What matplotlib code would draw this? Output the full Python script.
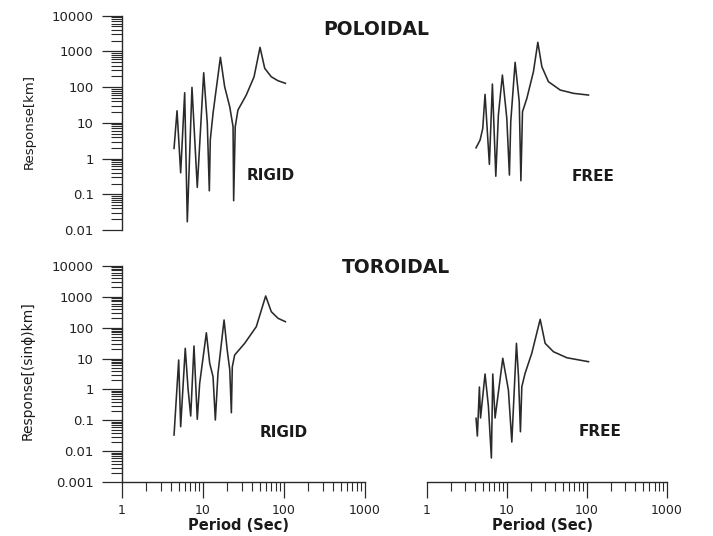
import numpy as np
import matplotlib.pyplot as plt
from matplotlib.ticker import LogLocator, NullFormatter

# periods (s) and responses
pol_rigid_period = [4.39, 4.78, 5.30, 5.94, 6.40, 7.31, 8.50, 10.2, 11.3, 11.97, 12.3, 13.3,
                    16.4, 18.5, 21.4, 23.5, 23.9, 25.0, 27.0, 34.2, 42.7, 50.6, 57.8, 69.7, 84.3, 104]
pol_rigid_resp = [1.93, 21.8, 0.40, 69.7, 0.017, 98.7, 0.156, 253, 9.7, 0.125, 3.3, 18.5,
                  684, 103, 28, 7.8, 0.066, 7.8, 22.8, 60, 195, 1300, 336, 195, 151, 128]

pol_free_period = [4.13, 4.64, 5.01, 5.35, 6.06, 6.61, 7.29, 7.85, 8.81, 10.0, 10.78, 11.2,
                   12.7, 14.3, 15.0, 15.7, 17.8, 21.5, 24.4, 27.4, 33.1, 46.4, 68, 104.7]
pol_free_resp = [2.0, 3.3, 7.0, 62.8, 0.69, 122, 0.32, 16.5, 218, 13.4, 0.345, 10.7,
                 495, 39, 0.24, 20.5, 48.5, 270, 1800, 373, 142, 83, 67, 60]

tor_rigid_period = [4.39, 5.01, 5.30, 6.04, 6.53, 7.05, 7.74, 8.5, 9.1, 11.0, 12.1, 13.3, 14.2,
                    15.3, 18.2, 19.9, 21.4, 22.4, 23.0, 24.6, 32.7, 45.5, 59.4, 69.7, 84.3, 104]
tor_rigid_resp = [0.0337, 8.96, 0.0625, 21.4, 1.09, 0.139, 25.4, 0.109, 1.58, 68, 7.0, 2.6, 0.103,
                  3.3, 176, 18.8, 4.3, 0.177, 5.4, 13, 31, 107, 1050, 326, 200, 155]

tor_free_period = [4.13, 4.29, 4.55, 4.70, 5.35, 5.89, 6.42, 6.68, 7.14, 8.91, 10.47, 11.55,
                   13.2, 14.0, 14.8, 15.4, 16.9, 20.5, 26.1, 30.1, 38.2, 56.2, 104.7]
tor_free_resp = [0.117, 0.0313, 1.2, 0.12, 3.16, 0.29, 0.0061, 3.16, 0.12, 10.2, 0.96, 0.020,
                 31, 2.6, 0.043, 1.23, 3.3, 14.8, 185, 31, 16.6, 10.6, 7.9]

x_ticks = [1, 10, 100, 1000]
x_labels = ["1", "10", "100", "1000"]
y_ticks_top = [0.01, 0.1, 1, 10, 100, 1000, 10000]
y_labels_top = ["0.01", "0.1", "1", "10", "100", "1000", "10000"]
y_ticks_bot = [0.001, 0.01, 0.1, 1, 10, 100, 1000, 10000]
y_labels_bot = ["0.001", "0.01", "0.1", "1", "10", "100", "1000", "10000"]

W, H = 713, 536
ink = "#2a2a2a"

fig = plt.figure(figsize=(W / 100, H / 100), dpi=100)


def px_axes(x0, y0, x1, y1):
    # box given in pixels from the top left corner
    return fig.add_axes([x0 / W, 1 - y1 / H, (x1 - x0) / W, (y1 - y0) / H])


ax_pr = px_axes(122, 15.7, 365, 230)
ax_pf = px_axes(426.7, 15.7, 667, 230)
ax_tr = px_axes(122, 265.7, 365, 482.3)
ax_tf = px_axes(426.7, 265.7, 667, 482.3)

for ax in (ax_pr, ax_pf, ax_tr, ax_tf):
    ax.set_xscale("log")
    ax.set_yscale("log")
    ax.set_xlim(1, 1000)
    ax.patch.set_alpha(0)
    for s in ax.spines.values():
        s.set_color(ink)
        s.set_linewidth(1.0)
    ax.spines["top"].set_visible(False)
    ax.spines["right"].set_visible(False)

ax_pr.set_ylim(0.01, 10000)
ax_pf.set_ylim(0.01, 10000)
ax_tr.set_ylim(0.001, 10000)
ax_tf.set_ylim(0.001, 10000)

ax_pr.plot(pol_rigid_period, pol_rigid_resp, color=ink, lw=1.15)
ax_pf.plot(pol_free_period, pol_free_resp, color=ink, lw=1.15)
ax_tr.plot(tor_rigid_period, tor_rigid_resp, color=ink, lw=1.15)
ax_tf.plot(tor_free_period, tor_free_resp, color=ink, lw=1.15)


def y_axis(ax, ticks, labels):
    ax.set_yticks(ticks)
    ax.set_yticklabels(labels)
    ax.yaxis.set_minor_locator(LogLocator(base=10, subs=np.arange(2, 10), numticks=30))
    ax.yaxis.set_minor_formatter(NullFormatter())
    ax.tick_params(axis="y", which="major", direction="out", length=14.4, width=0.9,
                   color=ink, pad=6, labelsize=9.5, labelcolor="#222222")
    ax.tick_params(axis="y", which="minor", direction="out", length=8, width=0.8, color=ink)


def x_axis(ax):
    ax.set_xticks(x_ticks)
    ax.set_xticklabels(x_labels)
    ax.xaxis.set_minor_locator(LogLocator(base=10, subs=np.arange(2, 10), numticks=30))
    ax.xaxis.set_minor_formatter(NullFormatter())
    ax.tick_params(axis="x", which="major", direction="out", length=11.5, width=0.9,
                   color=ink, pad=4, labelsize=9, labelcolor="#222222")
    ax.tick_params(axis="x", which="minor", direction="out", length=6.7, width=0.8, color=ink)


def hide_x(ax):
    ax.spines["bottom"].set_visible(False)
    ax.tick_params(axis="x", which="both", bottom=False, labelbottom=False)


def hide_y(ax):
    ax.spines["left"].set_visible(False)
    ax.tick_params(axis="y", which="both", left=False, labelleft=False)


y_axis(ax_pr, y_ticks_top, y_labels_top)
hide_x(ax_pr)
hide_x(ax_pf)
hide_y(ax_pf)
y_axis(ax_tr, y_ticks_bot, y_labels_bot)
x_axis(ax_tr)
x_axis(ax_tf)
hide_y(ax_tf)


def label(x, y, s, **kw):
    fig.text(x / W, 1 - y / H, s, ha="center", va="center", color="#1a1a1a", **kw)


label(375.8, 29.7, "POLOIDAL", fontsize=13.5, fontweight="bold")
label(395.7, 267.3, "TOROIDAL", fontsize=13.5, fontweight="bold")
label(270.8, 175, "RIGID", fontsize=11, fontweight="bold")
label(592.8, 176.7, "FREE", fontsize=11, fontweight="bold")
label(283.3, 432.7, "RIGID", fontsize=11, fontweight="bold")
label(599.7, 431.7, "FREE", fontsize=11, fontweight="bold")
label(29, 121.7, "Response[km]", fontsize=9.5, rotation=90)
label(27.5, 371, "Response[(sin\u03d5)km]", fontsize=10, rotation=90)
label(239, 525, "Period (Sec)", fontsize=10.5, fontweight="bold")
label(543, 525, "Period (Sec)", fontsize=10.5, fontweight="bold")

fig.savefig("out.png", dpi=100)
